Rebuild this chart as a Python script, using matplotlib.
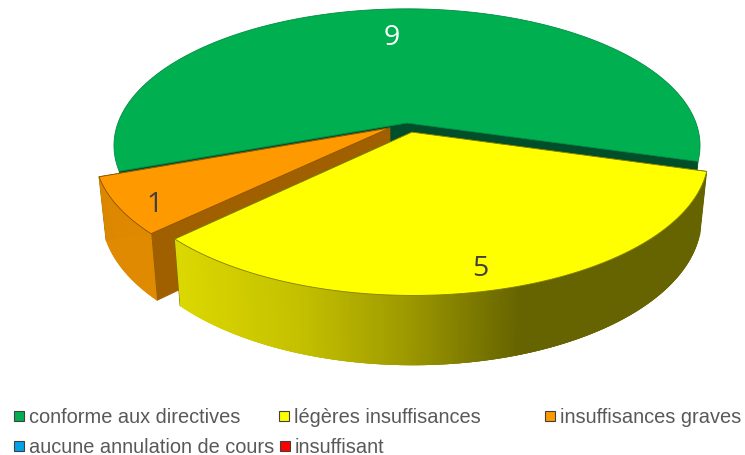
import matplotlib
matplotlib.use('Agg')
import matplotlib.pyplot as plt
from matplotlib.colors import to_rgb
from matplotlib.patches import Rectangle
import numpy as np

# chart data
categories = ['conforme aux directives', 'légères insuffisances', 'insuffisances graves',
              'aucune annulation de cours', 'insuffisant']
values = [9, 5, 1, 0, 0]
colors = ['#00b050', '#ffff00', '#ff9900', '#00a2e8', '#ff0000']

# ── 3D look ───────────────────────────────────────────────────────
start_angle = 200.0      # degrees, slices run clockwise
explode = [0.0, 0.07, 0.07, 0.0, 0.0]
radial_wall = ['#004f2a', '#666600', '#a06000', '#000000', '#000000']
wall_stops_x = [175, 300, 400, 520, 710]
wall_stops = {
    1: ['#dcd800', '#c4c000', '#a09c00', '#666400', '#666400'],
    2: ['#e08a00', '#d88000', '#d88000', '#d88000', '#d88000'],
}
edge_shade = [0.8, 0.5, 0.55]
label_r = [0.73, 0.88, 0.90]
label_turn = [2.7, -1.0, 3.2]
label_colors = ['white', '#404040', '#404040']

CX, CY = 407, 124        # disc centre on screen
RX, RY = 289, 133        # disc radii
PERSP = 0.165
DEPTH_A, DEPTH_B = 1.05, 55
SHRINK = 0.977


def project(x, y):
    # disc coords (y up) to top face pixels, near side drawn larger
    w = 1 + PERSP * y
    return CX + RX * x / w, CY - RY * y / w


def drop(px, py):
    # top face pixels to the matching bottom face pixels
    return CX + (px - CX) * SHRINK, DEPTH_A * py + DEPTH_B


fig, ax = plt.subplots(figsize=(7.45, 4.56), dpi=100)
fig.subplots_adjust(0, 0, 1, 1)
ax.set_xlim(0, 745)
ax.set_ylim(456, 0)
ax.axis('off')

total = sum(values)
spans = [v / total * 360 for v in values]
ends = start_angle - np.cumsum(spans)
starts = ends + np.array(spans)

# back to front: green, orange, yellow
for depth, i in enumerate([0, 2, 1]):
    base_z = 1 + depth * 3
    a = np.radians(np.linspace(starts[i], ends[i], 240))
    mid = np.radians((starts[i] + ends[i]) / 2)
    ox, oy = explode[i] * np.cos(mid), explode[i] * np.sin(mid)
    rim_x, rim_y = project(ox + np.cos(a), oy + np.sin(a))
    apex_x, apex_y = project(ox, oy)
    low_x, low_y = drop(rim_x, rim_y)
    apex_lx, apex_ly = drop(apex_x, apex_y)
    dark = tuple(c * edge_shade[i] for c in to_rgb(colors[i]))

    # flat side walls from the centre to both rim ends
    for k in [0, -1]:
        ax.fill([apex_x, rim_x[k], low_x[k], apex_lx],
                [apex_y, rim_y[k], low_y[k], apex_ly],
                color=radial_wall[i], lw=0.6, zorder=base_z)

    # outer wall as overlapping strips, so the shading can follow x
    if i in wall_stops:
        stops = np.array([to_rgb(c) for c in wall_stops[i]])
        for j in range(len(a) - 3):
            if np.sin(a[j]) + oy > 0.25:
                continue
            xm = (rim_x[j] + rim_x[j + 1]) / 2
            col = [np.interp(xm, wall_stops_x, stops[:, n]) for n in range(3)]
            ax.fill([rim_x[j], rim_x[j + 3], low_x[j + 3], low_x[j]],
                    [rim_y[j], rim_y[j + 3], low_y[j + 3], low_y[j]],
                    color=col, lw=0, zorder=base_z + 1)

    # top face
    ax.fill(np.r_[apex_x, rim_x], np.r_[apex_y, rim_y], facecolor=colors[i],
            edgecolor=dark, lw=0.6, joinstyle='round', zorder=base_z + 2)

    turn = mid + np.radians(label_turn[i])
    tx, ty = project(ox + label_r[i] * np.cos(turn), oy + label_r[i] * np.sin(turn))
    ax.text(tx, ty, str(values[i]), color=label_colors[i], fontsize=20.5,
            family='Open Sans', ha='center', va='center', zorder=20)

# ── Legend ────────────────────────────────────────────────────────
legend_x = [14, 279, 545, 14, 280]
legend_y = [417, 417, 417, 447, 447]
for name, col, lx, ly in zip(categories, colors, legend_x, legend_y):
    ax.add_patch(Rectangle((lx, ly - 5), 10, 10, facecolor=col, edgecolor='#404040', lw=0.8))
    ax.text(lx + 15, ly + 1, name, color='#595959', fontsize=14.4, family='Liberation Sans',
            ha='left', va='center')

fig.patch.set_facecolor('white')
plt.savefig('out.png', dpi=100)
